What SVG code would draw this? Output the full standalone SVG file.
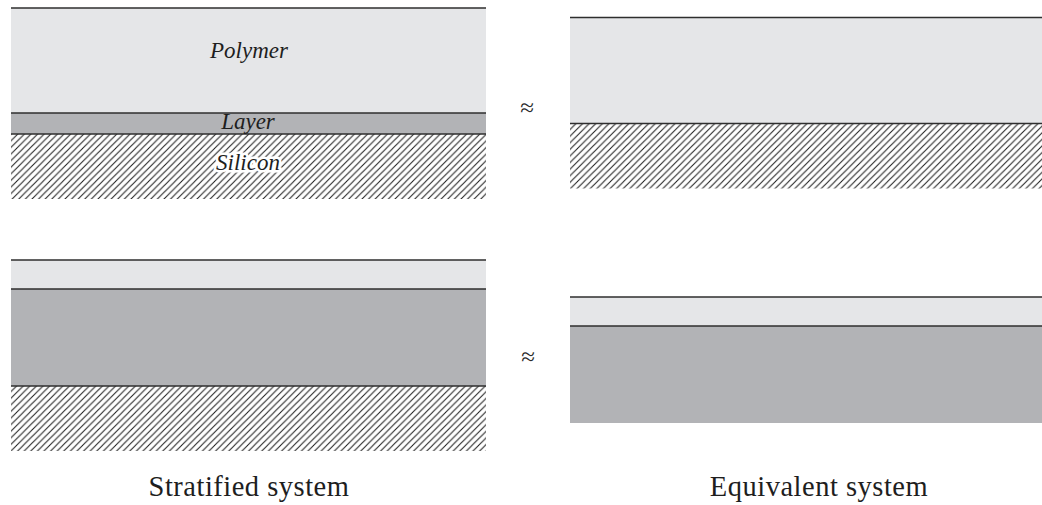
<svg xmlns="http://www.w3.org/2000/svg" width="1042" height="505" viewBox="0 0 1042 505">
<style>
.light{fill:#e5e6e8}
.dark{fill:#b2b3b6}
.hatch{fill:url(#hatch)}
.edge{stroke:#2e2e2e;stroke-width:1.3;fill:none}
.lbl{font-family:"Liberation Serif","DejaVu Serif",serif;font-style:italic;font-size:23px;fill:#1e1e1e;text-anchor:middle}
.cap{font-family:"Liberation Serif","DejaVu Serif",serif;font-size:28.5px;letter-spacing:0.5px;fill:#1e1e1e;text-anchor:middle}
.approx{font-family:"Liberation Serif","DejaVu Serif",serif;font-size:25px;fill:#2a2a2a;text-anchor:middle}
</style>
<defs>
<pattern id="hatch" patternUnits="userSpaceOnUse" width="6.6" height="6.6">
<path d="M-1,7.6 L7.6,-1 M-1,1 L1,-1 M5.6,7.6 L7.6,5.6" stroke="#222" stroke-width="1.1"/>
</pattern>
</defs>
<g id="stratified-top">
<rect class="light" x="11" y="8" width="475" height="105"/>
<rect class="dark" x="11" y="113" width="475" height="21"/>
<rect class="hatch" x="11" y="134" width="475" height="65"/>
<line class="edge" x1="11" y1="8" x2="486" y2="8"/>
<line class="edge" x1="11" y1="113" x2="486" y2="113"/>
<line class="edge" x1="11" y1="134" x2="486" y2="134"/>
<text class="lbl" x="249" y="58">Polymer</text>
<text class="lbl" x="248" y="129">Layer</text>
<text class="lbl" x="248" y="170" stroke="#fff" stroke-width="5" paint-order="stroke">Silicon</text>
</g>
<g id="equivalent-top">
<rect class="light" x="570" y="17.5" width="472" height="106"/>
<rect class="hatch" x="570" y="123.5" width="472" height="65"/>
<line class="edge" x1="570" y1="17.5" x2="1042" y2="17.5"/>
<line class="edge" x1="570" y1="123.5" x2="1042" y2="123.5"/>
</g>
<g id="stratified-bottom">
<rect class="light" x="11" y="260" width="475" height="29"/>
<rect class="dark" x="11" y="289" width="475" height="97"/>
<rect class="hatch" x="11" y="386" width="475" height="65"/>
<line class="edge" x1="11" y1="260" x2="486" y2="260"/>
<line class="edge" x1="11" y1="289" x2="486" y2="289"/>
<line class="edge" x1="11" y1="386" x2="486" y2="386"/>
</g>
<g id="equivalent-bottom">
<rect class="light" x="570" y="297" width="472" height="29"/>
<rect class="dark" x="570" y="326" width="472" height="97"/>
<line class="edge" x1="570" y1="297" x2="1042" y2="297"/>
<line class="edge" x1="570" y1="326" x2="1042" y2="326"/>
</g>
<g id="connectors">
<text class="approx" x="527" y="116">≈</text>
<text class="approx" x="528" y="365">≈</text>
</g>
<g id="captions">
<text class="cap" x="249" y="496">Stratified system</text>
<text class="cap" x="819" y="496">Equivalent system</text>
</g>
</svg>
